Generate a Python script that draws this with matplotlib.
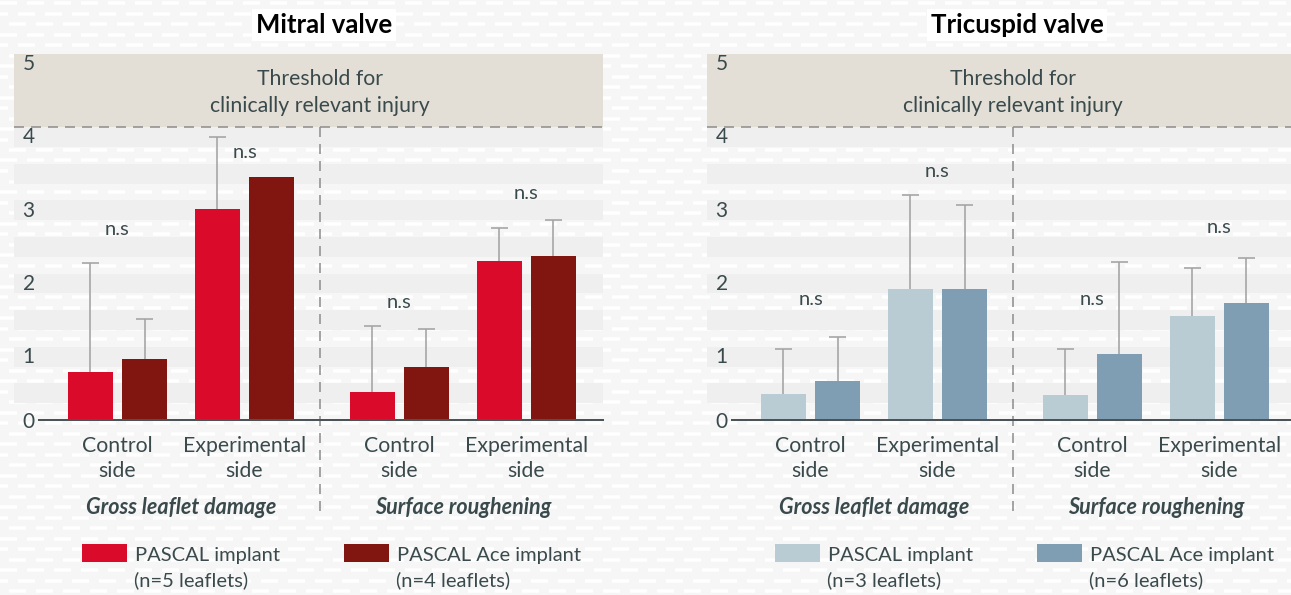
import matplotlib
matplotlib.use("Agg")
import matplotlib.pyplot as plt
from matplotlib.lines import Line2D
from matplotlib.patches import Rectangle
import numpy as np

plt.rcParams['font.family'] = ['Lato', 'DejaVu Sans']
plt.rcParams['lines.scale_dashes'] = False

# ---------------- data ----------------
categories = [("Control", "side"), ("Experimental", "side"), ("Control", "side"), ("Experimental", "side")]
groups = ["Gross leaflet damage", "Surface roughening"]
yticks = [0, 1, 2, 3, 4, 5]

mitral_pascal = [0.66, 2.88, 0.38, 2.17]
mitral_pascal_err_top = [2.14, 3.86, 1.28, 2.62]
mitral_ace = [0.83, 3.32, 0.72, 2.24]
mitral_ace_err_top = [1.38, None, 1.24, 2.73]
mitral_ns_y = [2.6, 3.65, 1.6, 3.1]

tric_pascal = [0.35, 1.79, 0.34, 1.42]
tric_pascal_err_top = [0.97, 3.07, 0.97, 2.08]
tric_ace = [0.53, 1.79, 0.90, 1.60]
tric_ace_err_top = [1.13, 2.94, 2.16, 2.21]
tric_ns_y = [1.65, 3.4, 1.65, 2.63]

mitral_legend = [("PASCAL implant", "(n=5 leaflets)"), ("PASCAL Ace implant", "(n=4 leaflets)")]
tric_legend = [("PASCAL implant", "(n=3 leaflets)"), ("PASCAL Ace implant", "(n=6 leaflets)")]
threshold_text = ("Threshold for", "clinically relevant injury")

# ---------------- style ----------------
W, H = 1291, 595
BG = "#f6f6f6"
BAND = "#efefef"
THR = "#e3dfd6"
TXT = "#3a4a4c"
ERR = "#a3a3a3"
UNIT = 73.2  # px per y unit

fig = plt.figure(figsize=(W / 100, H / 100), dpi=100, facecolor=BG)

# background texture of white dashes
px = 0.72
for i, yy in enumerate(np.arange(3, H, 10.5)):
    o = (i * 9) % 27
    fig.add_artist(Line2D([0, 1], [1 - yy / H, 1 - yy / H], transform=fig.transFigure,
                          color="white", lw=3.5 * px,
                          linestyle=(o * px, (17 * px, 10 * px)), zorder=-5))

xpos = np.array([0.0, 1.0, 2.22, 3.22])
bw = 0.354
off = 0.213
cap = 0.067


def ypx(p):
    """convert a pixel row (from top) to y data value"""
    return (420 - p) / UNIT


def panel(left_px, right_px, title, title_x, pas, pas_top, ace, ace_top, ns_y,
          c1, c2, legend_labels, legend_x):
    ax = fig.add_axes([left_px / W, 1 - 420 / H, (right_px - left_px) / W, 366 / H])
    ax.set_facecolor("none")
    ax.set_ylim(0, 5)
    center0 = left_px + 103.5
    ax.set_xlim((left_px - center0) / 127, (right_px - center0) / 127)
    for s in ax.spines.values():
        s.set_visible(False)
    ax.set_xticks([])
    ax.set_yticks([])
    xl = ax.get_xlim()
    # bands
    ax.axhspan(4, 5, color=THR, zorder=0, lw=0)
    for k in np.arange(4, 0.4, -0.5):
        ax.axhspan(k - 0.27, k, color=BAND, zorder=0, lw=0)
    # threshold dashed line
    ax.axhline(4, color="#8a8a8a", lw=1.5 * px, linestyle=(0, (10 * px, 7 * px)), zorder=2)
    # separator
    sep = 1.594
    ax.add_line(Line2D([sep, sep], [4, ypx(518)], color="#8a8a8a", lw=1.5 * px,
                       linestyle=(0, (10 * px, 7 * px)), clip_on=False, zorder=2))
    # baseline
    ax.add_line(Line2D([-0.615, xl[1]], [0, 0], color="#4a5456", lw=2 * px, clip_on=False, zorder=4))
    # tick labels
    for t in yticks:
        ax.text(-0.70, t - 0.14 if t > 0 else -0.03, str(t), ha="center", va="center",
                fontsize=15, color=TXT)
    # threshold text
    ax.text(sep, ypx(79), threshold_text[0], ha="center", va="center", fontsize=15.3, color=TXT)
    ax.text(sep, ypx(105.5), threshold_text[1], ha="center", va="center", fontsize=15.3, color=TXT)
    # bars
    ax.bar(xpos - off, pas, width=bw, color=c1, zorder=3)
    ax.bar(xpos + off, ace, width=bw, color=c2, zorder=3)
    for xs, vals, tops in ((xpos - off, pas, pas_top), (xpos + off, ace, ace_top)):
        for x, v, t in zip(xs, vals, tops):
            if t is None:
                continue
            ax.vlines(x, v, t, color=ERR, lw=1.6 * px, zorder=2.5)
            ax.hlines(t, x - cap, x + cap, color=ERR, lw=1.6 * px, zorder=2.5)
    for x, y in zip(xpos, ns_y):
        ax.text(x, y, "n.s", ha="center", va="center", fontsize=14.5, color=TXT)
    # category labels
    for x, (l1, l2) in zip(xpos, categories):
        ax.text(x, ypx(446), l1, ha="center", va="center", fontsize=15.3, color=TXT, clip_on=False)
        ax.text(x, ypx(471), l2, ha="center", va="center", fontsize=15.3, color=TXT, clip_on=False)
    for g, x in zip(groups, [(xpos[0] + xpos[1]) / 2, (xpos[2] + xpos[3]) / 2]):
        ax.text(x, ypx(508), g, ha="center", va="center", fontsize=15.5, color=TXT,
                fontweight="bold", fontstyle="italic")
    # title
    fig.text(title_x / W, 1 - 25 / H, title, ha="center", va="center", fontsize=18.5,
             fontweight="bold", color="black",
             bbox=dict(facecolor="white", edgecolor="none", pad=3))
    # legend
    for lx, col, (l1, l2) in zip(legend_x, (c1, c2), legend_labels):
        fig.add_artist(Rectangle((lx / W, 1 - 562 / H), 45 / W, 18 / H,
                                 transform=fig.transFigure, color=col, lw=0))
        fig.text((lx + 53) / W, 1 - 555 / H, l1, ha="left", va="center", fontsize=14.5, color=TXT)
        fig.text((lx + 52) / W, 1 - 580 / H, l2, ha="left", va="center", fontsize=14.5, color=TXT)
    return ax


panel(14, 603, "Mitral valve", 324, mitral_pascal, mitral_pascal_err_top, mitral_ace,
      mitral_ace_err_top, mitral_ns_y, "#d90a2a", "#81150f", mitral_legend, [82, 344])
panel(707, 1291, "Tricuspid valve", 1017, tric_pascal, tric_pascal_err_top, tric_ace,
      tric_ace_err_top, tric_ns_y, "#b9ccd3", "#7f9db3", tric_legend, [775, 1037])

fig.savefig("out.png", dpi=100, facecolor=BG)
